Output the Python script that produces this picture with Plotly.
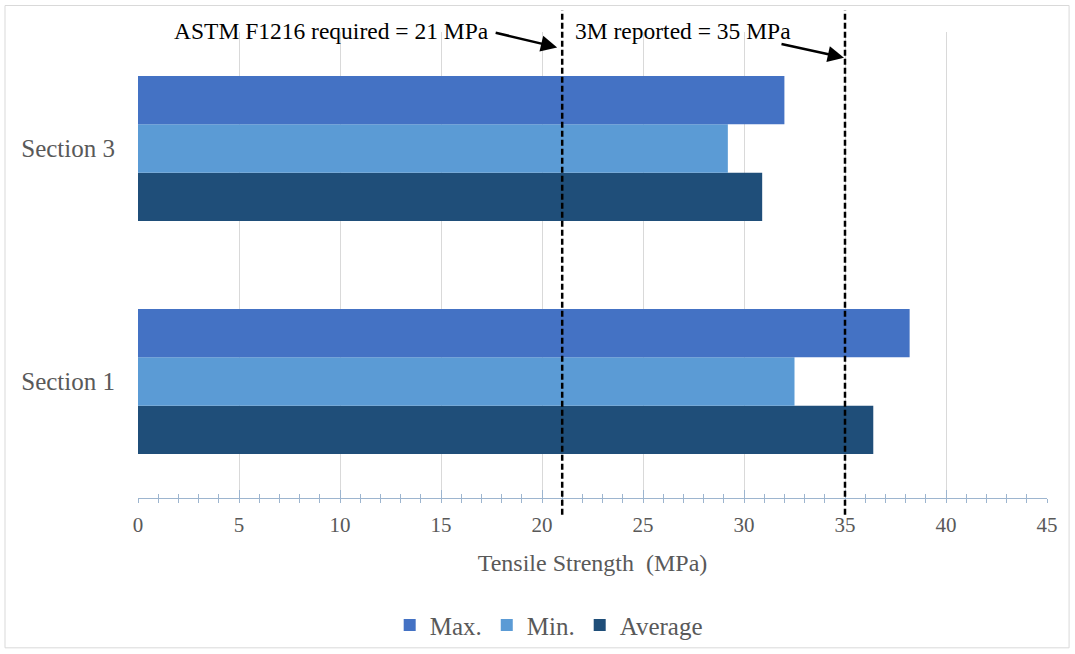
import plotly.graph_objects as go

# Tensile strength results per pipe section (MPa)
sections = ["Section 1", "Section 3"]
max_vals = [38.2, 32.0]
min_vals = [32.5, 29.2]
avg_vals = [36.4, 30.9]

# Reference strength levels (MPa)
astm_required = 21
reported_3m = 35

x_ticks = [0, 5, 10, 15, 20, 25, 30, 35, 40, 45]

FONT = "Liberation Serif, Times New Roman, serif"
GREY_TXT = "#595959"
AXIS_BLUE = "#9DB5CF"

fig = go.Figure()

# Added bottom-to-top within each group: Average, Min., Max.
fig.add_trace(go.Bar(name="Average", y=sections, x=avg_vals, orientation="h",
                     marker=dict(color="#1F4E79", line=dict(width=0))))
fig.add_trace(go.Bar(name="Min.", y=sections, x=min_vals, orientation="h",
                     marker=dict(color="#5B9BD5", line=dict(width=0))))
fig.add_trace(go.Bar(name="Max.", y=sections, x=max_vals, orientation="h",
                     marker=dict(color="#4472C4", line=dict(width=0))))

# Empty trace so the crossing tick axis is drawn
fig.add_trace(go.Scatter(x=[None], y=[None], xaxis="x2", showlegend=False,
                         hoverinfo="skip"))

shapes = [
    # chart-area border
    dict(type="rect", xref="paper", yref="paper", x0=-0.1463, x1=1.0243,
         y0=-0.3215, y1=1.0568, line=dict(color="#D9D9D9", width=1),
         layer="below"),
]
for v in (astm_required, reported_3m):
    shapes.append(dict(type="line", xref="x", yref="paper", x0=v, x1=v,
                       y0=-0.036, y1=1.046,
                       line=dict(color="black", width=2.5, dash="6px,3px")))

annotations = [
    dict(text="ASTM F1216 required = 21 MPa", xref="x", yref="paper",
         x=1.68, y=1.003, xanchor="left", yanchor="middle", showarrow=False,
         font=dict(family=FONT, size=23.5, color="black")),
    dict(text="3M reported = 35 MPa", xref="x", yref="paper",
         x=21.55, y=1.003, xanchor="left", yanchor="middle", showarrow=False,
         font=dict(family=FONT, size=23.5, color="black")),
    dict(text="", xref="x", yref="paper", x=20.75, y=0.967,
         ax=-63, ay=-15, showarrow=True, arrowhead=2, arrowsize=1.3,
         arrowwidth=2.5, arrowcolor="black"),
    dict(text="", xref="x", yref="paper", x=34.95, y=0.945,
         ax=-64, ay=-14, showarrow=True, arrowhead=2, arrowsize=1.3,
         arrowwidth=2.5, arrowcolor="black"),
]

fig.update_layout(
    width=1075, height=654,
    margin=dict(l=138, r=28, t=31.5, b=156, pad=0, autoexpand=False),
    paper_bgcolor="white", plot_bgcolor="white",
    barmode="group", bargap=0.378, bargroupgap=0,
    font=dict(family=FONT, color=GREY_TXT),
    showlegend=True,
    legend=dict(orientation="h", traceorder="reversed",
                xref="container", yref="container",
                x=0.3625, xanchor="left", y=0.044, yanchor="middle",
                itemwidth=30, bgcolor="rgba(0,0,0,0)",
                font=dict(family=FONT, size=25, color=GREY_TXT)),
    xaxis=dict(range=[0, 45], tickvals=x_ticks, showgrid=True,
               gridcolor="#D9D9D9", gridwidth=1, zeroline=False,
               showline=True, linecolor=AXIS_BLUE, linewidth=1,
               ticks="outside", ticklen=4, tickcolor=AXIS_BLUE,
               minor=dict(dtick=1, ticks="outside", ticklen=4,
                          tickcolor=AXIS_BLUE, showgrid=False),
               ticklabelstandoff=4, automargin=False,
               tickfont=dict(family=FONT, size=21, color=GREY_TXT),
               title=dict(text="Tensile Strength\u00a0\u00a0(MPa)",
                          font=dict(family=FONT, size=24, color=GREY_TXT),
                          standoff=17),
               fixedrange=True),
    xaxis2=dict(range=[0, 45], overlaying="x", anchor="y", side="bottom",
                tickvals=x_ticks, showticklabels=False, showgrid=False,
                zeroline=False, showline=False,
                ticks="inside", ticklen=8, tickcolor=AXIS_BLUE,
                minor=dict(dtick=1, ticks="inside", ticklen=4,
                           tickcolor=AXIS_BLUE, showgrid=False)),
    yaxis=dict(range=[-0.5, 1.5], showgrid=False, zeroline=False,
               showline=False, ticks="", ticklabelstandoff=22,
               automargin=False,
               tickfont=dict(family=FONT, size=25, color=GREY_TXT)),
    shapes=shapes,
    annotations=annotations,
)

fig.write_html("out.html")
